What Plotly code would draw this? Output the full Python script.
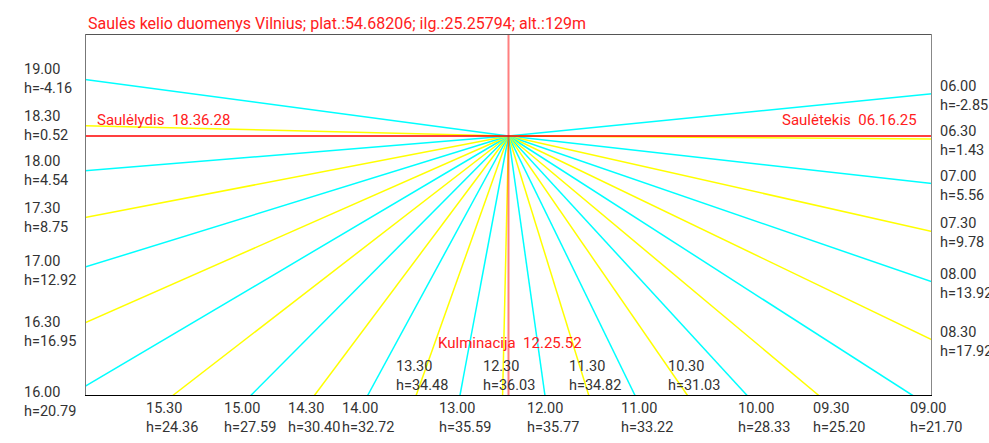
import numpy as np
import plotly.graph_objects as go

# sun path data, Vilnius
times = ["06.00", "06.30", "07.00", "07.30", "08.00", "08.30", "09.00", "09.30",
         "10.00", "10.30", "11.00", "11.30", "12.00", "12.30", "13.00", "13.30",
         "14.00", "14.30", "15.00", "15.30", "16.00", "16.30", "17.00", "17.30",
         "18.00", "18.30", "19.00"]
heights = [-2.85, 1.43, 5.56, 9.78, 13.92, 17.92, 21.70, 25.20,
           28.33, 31.03, 33.22, 34.82, 35.77, 36.03, 35.59, 34.48,
           32.72, 30.40, 27.59, 24.36, 20.79, 16.95, 12.92, 8.75,
           4.54, 0.52, -4.16]
# drawing direction of each ray, degrees from south (down), positive to the west (left)
directions = [-95.7, -89.6, -83.6, -77.3, -71.0, -64.3, -57.3, -50.1,
              -42.6, -34.6, -26.0, -17.2, -8.0, 1.3, 10.6, 19.6,
              28.5, 36.8, 44.8, 52.3, 59.4, 66.2, 72.8, 79.1,
              85.3, 91.4, 97.6]
inner_labels = ["13.30", "12.30", "11.30", "10.30"]

title_text = "Saulės kelio duomenys Vilnius; plat.:54.68206; ilg.:25.25794; alt.:129m"
sunset_text = "Saulėlydis  18.36.28"
sunrise_text = "Saulėtekis  06.16.25"
culmination_text = "Kulminacija  12.25.52"

W, H = 847, 362          # plot box in pixel-like units
cx, cy = 423.5, 260      # origin of the rays

FONT = "Roboto"
GREY = "#333333"
RED = "#ff2020"


def ray_end(deg):
    a = np.radians(deg)
    dx, dy = -np.sin(a), -np.cos(a)
    ts = []
    if dx < 0:
        ts.append((0 - cx) / dx)
    elif dx > 0:
        ts.append((W - cx) / dx)
    if dy < 0:
        ts.append((0 - cy) / dy)
    elif dy > 0:
        ts.append((H - cy) / dy)
    t = min(ts)
    return cx + t * dx, cy + t * dy


def note(x, y, text, **kw):
    # annotations in paper units so they may sit outside the box
    d = dict(x=x / W, y=y / H, xref="paper", yref="paper", text=text, showarrow=False,
             yanchor="middle", font=dict(family=FONT, size=14.5, color=GREY))
    d.update(kw)
    return d


fig = go.Figure()
annotations = []

for t, h, d in zip(times, heights, directions):
    ex, ey = ray_end(d)
    color = "#00ffff" if t.endswith("00") else "#ffff00"
    fig.add_trace(go.Scatter(x=[cx, ex], y=[cy, ey], mode="lines",
                             line=dict(color=color, width=1.5),
                             hoverinfo="skip", showlegend=False))
    txt = f"{t}<br>h={h:.2f}"
    if ex < 1:  # left side
        ly = ey - max(0, 166 - ey) * 0.1
        annotations.append(note(-63, ly, txt, xanchor="left", align="left"))
    elif ex > W - 1:  # right side
        annotations.append(note(853, ey - 2, txt, xanchor="left", align="left"))
    elif t in inner_labels:
        annotations.append(note(ex + 6, 20, txt, xanchor="center", align="left"))
    else:
        lx = ex + max(0, ex + 85 - 340) * 0.04
        annotations.append(note(lx, -22, txt, xanchor="center", align="left"))

# red reference lines
fig.add_trace(go.Scatter(x=[cx, cx], y=[0, H], mode="lines",
                         line=dict(color="rgba(255,0,0,0.5)", width=2),
                         hoverinfo="skip", showlegend=False))
fig.add_trace(go.Scatter(x=[0, W], y=[cy, cy], mode="lines",
                         line=dict(color="#ff0000", width=1.5),
                         hoverinfo="skip", showlegend=False))

red_font = dict(family=FONT, size=15, color=RED)
annotations += [
    note(1, 373, title_text, xanchor="left", font=dict(family=FONT, size=16, color=RED)),
    note(10, 276, sunset_text, xanchor="left", font=red_font),
    note(834, 276, sunrise_text, xanchor="right", font=red_font),
    note(cx + 1.5, 53, culmination_text, xanchor="center", font=red_font),
]

shapes = [
    dict(type="line", x0=0, y0=H, x1=W, y1=H, line=dict(color="#555555", width=2)),
    dict(type="line", x0=0, y0=0, x1=0, y1=H, line=dict(color="#777777", width=2)),
    dict(type="line", x0=W, y0=0, x1=W, y1=H, line=dict(color="#888888", width=2)),
    dict(type="line", x0=0, y0=0, x1=W, y1=0, line=dict(color="#000000", width=2)),
]
for s in shapes:
    s.update(xref="x", yref="y")

fig.update_layout(
    width=989, height=443,
    margin=dict(l=85, r=57, t=34, b=47),
    paper_bgcolor="white", plot_bgcolor="white",
    xaxis=dict(range=[0, W], visible=False, fixedrange=True),
    yaxis=dict(range=[0, H], visible=False, fixedrange=True),
    annotations=annotations, shapes=shapes,
    showlegend=False,
)

fig.write_html("out.html", config={"displayModeBar": False},
               post_script="document.body.style.margin='0';")
